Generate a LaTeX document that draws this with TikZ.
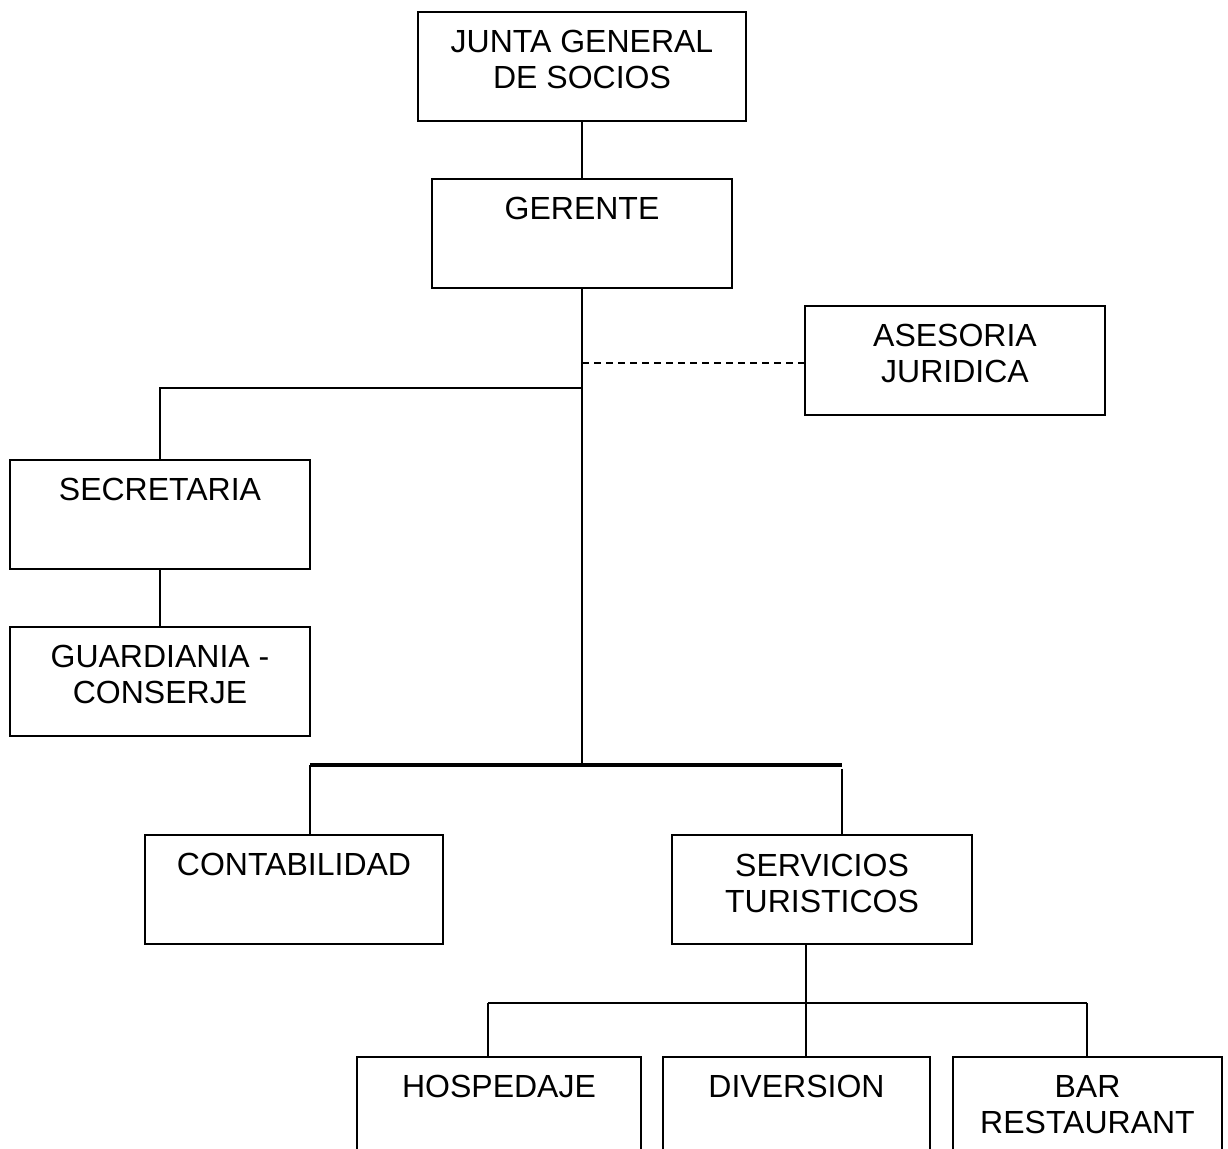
\documentclass[tikz,border=0pt]{standalone}
\usepackage{fontspec}
\setmainfont{Liberation Sans}
\usetikzlibrary{positioning,calc}
\tikzset{
caja/.style={rectangle, draw=black, line width=1pt, minimum width=150pt, minimum height=54.5pt, inner sep=0pt, font=\fontsize{16}{18}\selectfont},
linea/.style={draw, line width=1pt},
gruesa/.style={draw, line width=1.6pt},
guion/.style={draw, line width=0.9pt, dash pattern=on 3.5pt off 2.5pt},
}
\newcommand{\rotulo}[2][128pt]{\parbox[t][54.5pt][t]{#1}{\centering\rule{0pt}{20.5pt}#2}}

\begin{document}
\begin{tikzpicture}[x=0.5pt, y=-0.5pt]
\useasboundingbox (0,0) rectangle (1228,1149);
\clip (0,0) rectangle (1228,1149);

\node[caja, minimum width=164pt] (junta) at (582,66.5) {\rotulo[160pt]{JUNTA GENERAL\\DE SOCIOS}};
\node[caja] (gerente) at (582,233.5) {\rotulo{GERENTE}};
\node[caja] (asesoria) at (955,360.5) {\rotulo{ASESORIA\\JURIDICA}};
\node[caja] (secretaria) at (160,514.5) {\rotulo{SECRETARIA}};
\node[caja] (guardiania) at (160,681.5) {\rotulo{GUARDIANIA -\\CONSERJE}};
\node[caja, minimum width=149pt] (contabilidad) at (294,889.5) {\rotulo{CONTABILIDAD}};
\node[caja] (servicios) at (822,890) {\rotulo{SERVICIOS\\TURISTICOS}};
\node[caja, minimum width=142pt] (hospedaje) at (499,1111.5) {\rotulo{HOSPEDAJE}};
\node[caja, minimum width=133.5pt] (diversion) at (796.5,1111.5) {\rotulo{DIVERSION}};
\node[caja, minimum width=134.5pt] (bar) at (1087.5,1111.5) {\rotulo{BAR\\RESTAURANT}};

% puntos de union
\coordinate (rama) at (582,388);
\coordinate (nudo) at (582,765);
\coordinate (izq) at (310,765);
\coordinate (der) at (842,765);
\coordinate (bajada) at (806,945);
\coordinate (reparto) at (806,1003);
\coordinate (r1) at (488,1003);
\coordinate (r3) at (1087,1003);
\coordinate (enlace) at (582,363);

\path [linea] (junta.south) -- (gerente.north);
\path [linea] (gerente.south) -- (nudo);
\path [guion] (enlace) -- (enlace -| asesoria.west);
\path [linea] (rama) -| (secretaria.north);
\path [linea] (secretaria.south) -- (guardiania.north);

\path [gruesa] (izq) -- (der);
\path [linea] (izq) -- (izq |- contabilidad.north);
\path [linea] ([yshift=-2pt]der) -- (der |- servicios.north);

\path [linea] (bajada) -- (reparto);
\path [linea] (r1) -- (r3);
\path [linea] (r1) -- (r1 |- hospedaje.north);
\path [linea] (reparto) -- (reparto |- diversion.north);
\path [linea] (r3) -- (r3 |- bar.north);

\end{tikzpicture}
\end{document}
